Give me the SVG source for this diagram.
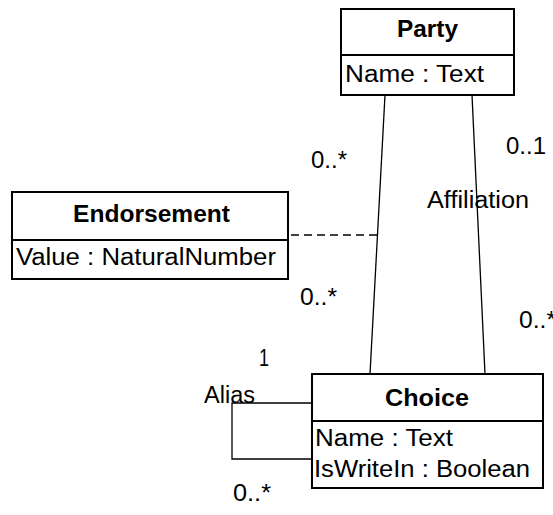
<svg xmlns="http://www.w3.org/2000/svg" width="553" height="515" viewBox="0 0 553 515">
<style>
.box{fill:#fff;stroke:#000;stroke-width:2}
.div{stroke:#000;stroke-width:2}
.t{font-family:"Liberation Sans",Arial,sans-serif;font-size:23px;fill:#000}
.b{font-weight:bold}
.c{fill:none;stroke:#000;stroke-width:1.3}
.d{fill:none;stroke:#000;stroke-width:1.3;stroke-dasharray:8,5}
</style>
<rect width="553" height="515" fill="#fff"/>
<g id="connectors">
<line class="c" x1="385" y1="95" x2="370" y2="374"/>
<line class="c" x1="472" y1="95" x2="485" y2="374"/>
<line class="d" x1="291" y1="235" x2="377" y2="235"/>
<polyline class="c" points="312,403 232,403 232,459 312,459"/>
<text class="t" x="311" y="168" textLength="36" lengthAdjust="spacingAndGlyphs">0..*</text>
<text class="t" x="506" y="154" textLength="40" lengthAdjust="spacingAndGlyphs">0..1</text>
<text class="t" x="427" y="208" textLength="102" lengthAdjust="spacingAndGlyphs">Affiliation</text>
<text class="t" x="300" y="305" textLength="37" lengthAdjust="spacingAndGlyphs">0..*</text>
<text class="t" x="519" y="328" textLength="37" lengthAdjust="spacingAndGlyphs">0..*</text>
<text class="t" x="259" y="366" textLength="10" lengthAdjust="spacingAndGlyphs">1</text>
<text class="t" x="204" y="403" textLength="51" lengthAdjust="spacingAndGlyphs">Alias</text>
<text class="t" x="233" y="501" textLength="38" lengthAdjust="spacingAndGlyphs">0..*</text>
</g>
<g id="party">
<rect class="box" x="341" y="9" width="173" height="86"/>
<line class="div" x1="341" y1="55" x2="514" y2="55"/>
<text class="t b" x="397" y="37" textLength="61" lengthAdjust="spacingAndGlyphs">Party</text>
<text class="t" x="345" y="82" textLength="139" lengthAdjust="spacingAndGlyphs">Name : Text</text>
</g>
<g id="endorsement">
<rect class="box" x="12" y="192" width="276" height="87"/>
<line class="div" x1="12" y1="240" x2="288" y2="240"/>
<text class="t b" x="73" y="222" textLength="157" lengthAdjust="spacingAndGlyphs">Endorsement</text>
<text class="t" x="16" y="265" textLength="260" lengthAdjust="spacingAndGlyphs">Value : NaturalNumber</text>
</g>
<g id="choice">
<rect class="box" x="312" y="374" width="231" height="114"/>
<line class="div" x1="312" y1="421" x2="543" y2="421"/>
<text class="t b" x="385" y="406" textLength="84" lengthAdjust="spacingAndGlyphs">Choice</text>
<text class="t" x="315" y="446" textLength="138" lengthAdjust="spacingAndGlyphs">Name : Text</text>
<text class="t" x="314" y="477" textLength="216" lengthAdjust="spacingAndGlyphs">IsWriteIn : Boolean</text>
</g>
</svg>
